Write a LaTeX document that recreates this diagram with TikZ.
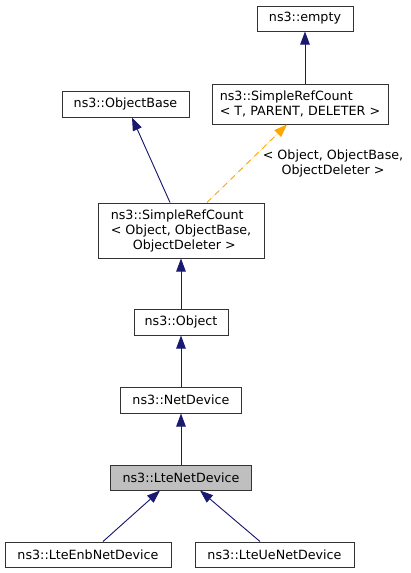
\documentclass[tikz,border=0pt]{standalone}
\usepackage{fontspec}
\setmainfont{DejaVu Sans}
\usetikzlibrary{arrows.meta}
\definecolor{edgeblue}{HTML}{191970}
\definecolor{edgeorange}{HTML}{FFA500}
\tikzset{
  cls/.style={draw=black!80,fill=white,shape=rectangle,line width=1pt,
    inner sep=0pt,font=\fontsize{12.7}{15}\selectfont},
  curcls/.style={cls,fill=black!25},
  inherit/.style={draw=edgeblue,fill=edgeblue,line width=0.9pt,
    -{Triangle[length=13pt,width=9.5pt]}},
  tmplinst/.style={inherit,draw=edgeorange,fill=edgeorange,dash pattern=on 6pt off 5pt}
}
\begin{document}
\begin{tikzpicture}[x=1pt,y=-1pt]
\useasboundingbox (0,0) rectangle (411,573);
\node[cls,minimum width=96pt,minimum height=25pt] (empty) at (305,18.5) {ns3::empty};
\node[cls,minimum width=176pt,minimum height=40pt,align=left] (srcT) at (300,104)
{ns3::SimpleRefCount\\< T, PARENT, DELETER >};
\node[cls,minimum width=127pt,minimum height=26pt] (objbase) at (125.5,104) {ns3::ObjectBase};
\node[cls,minimum width=166pt,minimum height=55pt,align=left] (srcObj) at (181,230.5)
{ns3::SimpleRefCount\\< Object, ObjectBase,\\\hspace*{22pt}ObjectDeleter >};
\node[cls,minimum width=94pt,minimum height=26pt] (object) at (181,322) {ns3::Object};
\node[cls,minimum width=121pt,minimum height=26pt] (netdev) at (181,400) {ns3::NetDevice};
\node[curcls,minimum width=141pt,minimum height=25pt] (ltenet) at (181,477.5) {ns3::LteNetDevice};
\node[cls,minimum width=166pt,minimum height=25pt] (enb) at (88,554.5) {ns3::LteEnbNetDevice};
\node[cls,minimum width=159pt,minimum height=25pt] (ue) at (274.5,554.5) {ns3::LteUeNetDevice};
% inheritance
\draw[inherit] ([xshift=5pt]srcT.north) -- (empty.south);
\draw[inherit] ([xshift=-11pt]srcObj.north) -- ([xshift=6.5pt]objbase.south);
\draw[tmplinst] ([xshift=26pt]srcObj.north) -- ([xshift=-13pt]srcT.south);
\node[font=\fontsize{12.7}{15}\selectfont,align=center,inner sep=0pt] (tmpllabel) at (333,163)
{< Object, ObjectBase,\\ObjectDeleter >};
\draw[inherit] (object.north) -- (srcObj.south);
\draw[inherit] (netdev.north) -- (object.south);
\draw[inherit] (ltenet.north) -- (netdev.south);
\draw[inherit] ([xshift=15pt]enb.north) -- ([xshift=-21pt]ltenet.south);
\draw[inherit] ([xshift=-14.5pt]ue.north) -- ([xshift=19pt]ltenet.south);
\end{tikzpicture}
\end{document}
